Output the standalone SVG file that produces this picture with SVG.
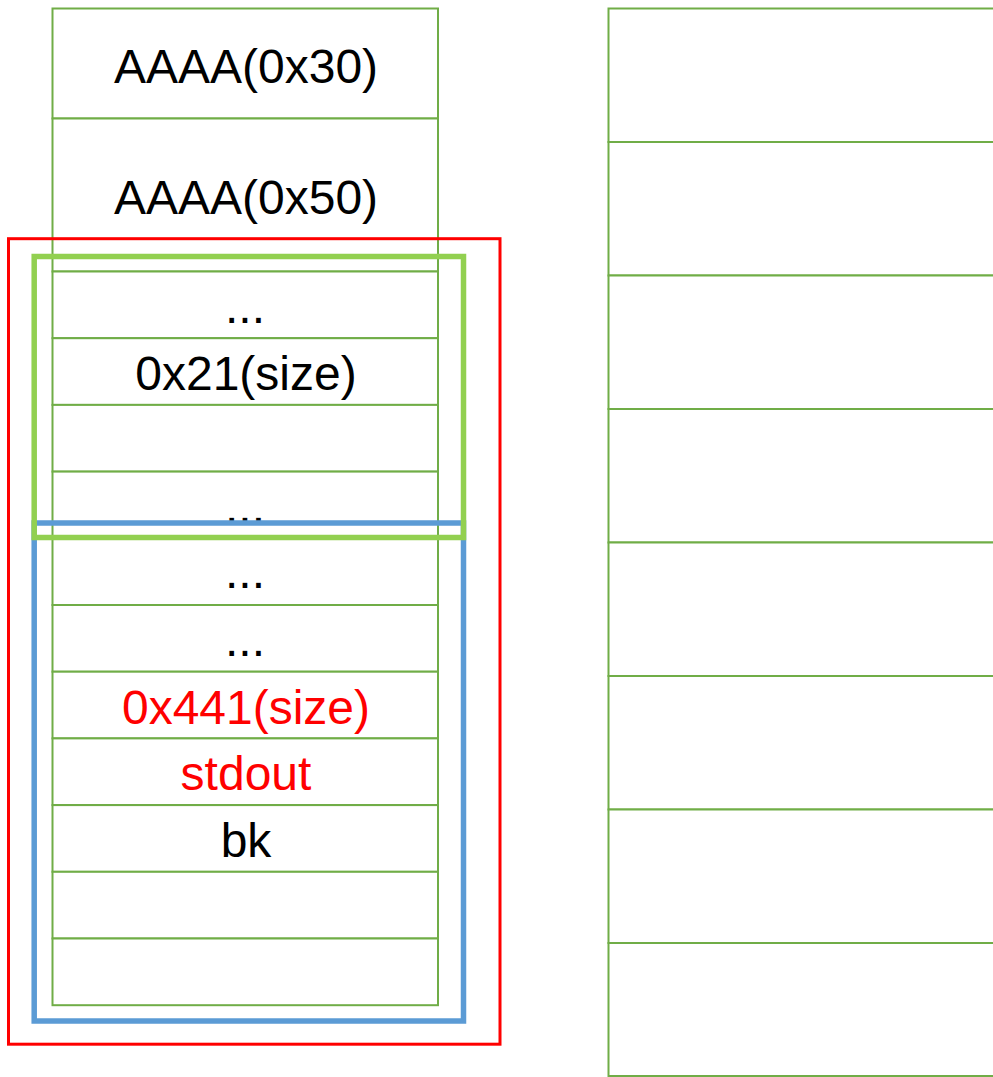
<svg xmlns="http://www.w3.org/2000/svg" width="993" height="1077" viewBox="0 0 993 1077">
<style>
.cell{fill:#FFFFFF;stroke:#70AD47;stroke-width:2}
.t{font-family:"Liberation Sans",Arial,sans-serif;font-size:48px;text-anchor:middle;fill:#000000}
.r{fill:#FF0000}
.frame{fill:none}
</style>
<rect width="993" height="1077" fill="#FFFFFF"/>
<g id="left-stack">
<rect class="cell" x="52.5" y="8.5" width="385.5" height="110"/>
<rect class="cell" x="52.5" y="118.5" width="385.5" height="153"/>
<rect class="cell" x="52.5" y="271.5" width="385.5" height="66.7"/>
<rect class="cell" x="52.5" y="338.2" width="385.5" height="66.7"/>
<rect class="cell" x="52.5" y="404.9" width="385.5" height="66.7"/>
<rect class="cell" x="52.5" y="471.6" width="385.5" height="66.7"/>
<rect class="cell" x="52.5" y="538.3" width="385.5" height="66.7"/>
<rect class="cell" x="52.5" y="605" width="385.5" height="66.7"/>
<rect class="cell" x="52.5" y="671.7" width="385.5" height="66.7"/>
<rect class="cell" x="52.5" y="738.4" width="385.5" height="66.7"/>
<rect class="cell" x="52.5" y="805.1" width="385.5" height="66.7"/>
<rect class="cell" x="52.5" y="871.8" width="385.5" height="66.7"/>
<rect class="cell" x="52.5" y="938.5" width="385.5" height="66.7"/>
<text class="t" x="246" y="83">AAAA(0x30)</text>
<text class="t" x="246" y="213.5">AAAA(0x50)</text>
<text class="t" x="245" y="323">...</text>
<text class="t" x="246" y="390">0x21(size)</text>
<text class="t" x="245" y="523">...</text>
<text class="t" x="245" y="588">...</text>
<text class="t" x="245" y="656">...</text>
<text class="t r" x="246" y="724">0x441(size)</text>
<text class="t r" x="246" y="790">stdout</text>
<text class="t" x="246" y="857">bk</text>
</g>
<g id="right-stack">
<rect class="cell" x="608.5" y="8.5" width="400" height="133.5"/>
<rect class="cell" x="608.5" y="142" width="400" height="133.5"/>
<rect class="cell" x="608.5" y="275.5" width="400" height="133.5"/>
<rect class="cell" x="608.5" y="409" width="400" height="133.5"/>
<rect class="cell" x="608.5" y="542.5" width="400" height="133.5"/>
<rect class="cell" x="608.5" y="676" width="400" height="133.5"/>
<rect class="cell" x="608.5" y="809.5" width="400" height="133.5"/>
<rect class="cell" x="608.5" y="943" width="400" height="133"/>
</g>
<g id="red-frame">
<rect class="frame" x="8.5" y="238.7" width="491.5" height="805.5" stroke="#FF0000" stroke-width="3"/>
</g>
<g id="blue-frame">
<rect class="frame" x="34.2" y="523" width="429.3" height="498" stroke="#5B9BD5" stroke-width="5.5"/>
</g>
<g id="green-frame">
<rect class="frame" x="34.2" y="256.5" width="429.3" height="281" stroke="#92D050" stroke-width="5.5"/>
</g>
<g id="connectors"/>
</svg>
